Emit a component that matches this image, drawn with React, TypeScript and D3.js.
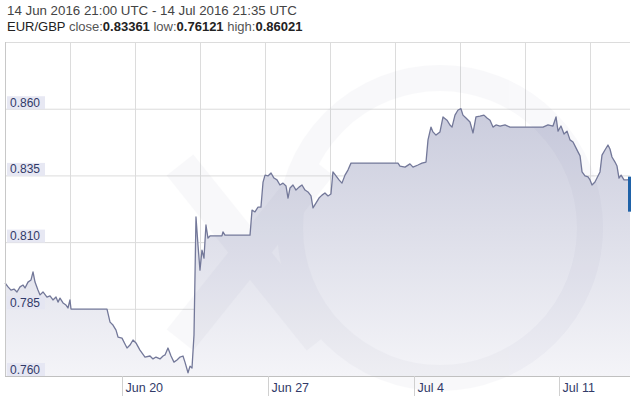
import React from 'react';
import * as d3 from 'd3';

// period shown
const startTime = new Date(Date.UTC(2016, 5, 14, 21, 0));
const endTime = new Date(Date.UTC(2016, 6, 14, 21, 35));

const pair = 'EUR/GBP';
const stats = [
  ['close', '0.83361'],
  ['low', '0.76121'],
  ['high', '0.86021'],
];
const yTicks = [0.76, 0.785, 0.81, 0.835, 0.86];

// [hours after start, rate]
const quotes: [number, number][] = [
  [0, 0.7949], [3.5, 0.7934], [6.9, 0.7922], [10.4, 0.7926], [13.8, 0.7915], [17.3, 0.7934],
  [20.8, 0.7941], [23.1, 0.793], [26.5, 0.7952], [30, 0.796], [32.3, 0.799], [34.6, 0.7952],
  [38, 0.7922], [40.4, 0.7904], [43.8, 0.7915], [48.4, 0.7896], [51.9, 0.79], [55.3, 0.7885],
  [58.8, 0.7896], [61.1, 0.7877], [63.4, 0.7892], [66.9, 0.7874], [70.3, 0.7866], [72.6, 0.7855],
  [74.9, 0.7885], [76.1, 0.7851], [117.6, 0.7851], [121.1, 0.7802], [124.5, 0.7791], [128, 0.7772],
  [130.3, 0.7746], [134.9, 0.7742], [138.3, 0.772], [140.7, 0.7705], [144.1, 0.7716], [147.6, 0.7735],
  [151, 0.7724], [155.6, 0.7697], [161.4, 0.7671], [167.2, 0.7675], [170.6, 0.7664], [174.1, 0.7671],
  [178.7, 0.7664], [182.2, 0.7675], [184.5, 0.7679], [187.9, 0.7705], [191.4, 0.7675], [194.8, 0.7652],
  [198.3, 0.766], [201.8, 0.7671], [205.2, 0.7675], [207.5, 0.7652], [211, 0.7612], [213.3, 0.7637],
  [215.6, 0.763], [217.9, 0.7754], [220.2, 0.8196], [222.5, 0.8091], [224.8, 0.7997], [227.1, 0.8072],
  [229.4, 0.8042], [231.7, 0.8166], [234, 0.8117], [236.3, 0.8125], [250.1, 0.8125], [251.3, 0.814],
  [253.6, 0.8128], [282.5, 0.8128], [284.8, 0.8222], [288.2, 0.8215], [291.7, 0.8233], [295.1, 0.8233],
  [297.5, 0.8327], [299.8, 0.8353], [303.2, 0.835], [306.7, 0.8361], [310.1, 0.8342], [313.6, 0.8335],
  [317, 0.8316], [320.5, 0.8323], [324, 0.8312], [326.3, 0.8267], [328.6, 0.8305], [332, 0.8316],
  [335.5, 0.8297], [339, 0.8308], [342.4, 0.8316], [345.9, 0.8297], [349.3, 0.829], [352.8, 0.8275],
  [355.1, 0.823], [358.5, 0.8248], [362, 0.8267], [365.5, 0.8278], [368.9, 0.8286], [372.4, 0.8275],
  [375.8, 0.8282], [378.1, 0.8365], [381.6, 0.835], [385.1, 0.8335], [388.5, 0.8323], [392, 0.8353],
  [395.4, 0.8372], [398.9, 0.8398], [403.5, 0.8398], [453.1, 0.8398], [455.4, 0.8387], [461.2, 0.8383],
  [466.9, 0.8395], [470.4, 0.8383], [476.1, 0.8391], [480.7, 0.8398], [485.4, 0.8402], [487.7, 0.8485],
  [491.1, 0.8533], [493.4, 0.8515], [496.9, 0.8503], [501.5, 0.8515], [505, 0.8571], [509.6, 0.8559],
  [513, 0.8541], [515.4, 0.8533], [518.8, 0.8578], [522.3, 0.8597], [525.7, 0.8602], [528, 0.8578],
  [531.5, 0.8567], [536.1, 0.8552], [539.6, 0.8511], [543, 0.8571], [547.6, 0.8574], [552.2, 0.8578],
  [555.7, 0.8567], [559.2, 0.8559], [562.6, 0.8533], [566.1, 0.8541], [570.7, 0.8537], [576.5, 0.8541],
  [582.2, 0.8533], [620.3, 0.8533], [626, 0.8541], [631.8, 0.8537], [635.3, 0.8571], [637.6, 0.8518],
  [641, 0.8537], [644.5, 0.8507], [648, 0.8518], [651.4, 0.8485], [654.9, 0.8477], [658.3, 0.8455],
  [660.6, 0.844], [663, 0.8425], [665.3, 0.8365], [668.7, 0.835], [672.2, 0.8346], [674.5, 0.8335],
  [676.8, 0.8316], [680.2, 0.8327], [682.5, 0.8342], [686, 0.8365], [688.3, 0.8428], [691.7, 0.8447],
  [695.2, 0.8466], [697.5, 0.8451], [699.8, 0.8421], [703.3, 0.8402], [705.6, 0.8387], [707.9, 0.8342],
  [710.3, 0.8353], [713.7, 0.8335], [717.2, 0.8335], [720.6, 0.8336],
];

const W = 631;
const H = 401;
const plot = { left: 5, right: 630, top: 42, bottom: 376 };
const font = 'Arial, "Liberation Sans", sans-serif';

export default function App() {
  const data = quotes.map(([h, v]) => ({ date: d3.utcMinute.offset(startTime, Math.round(h * 60)), value: v }));

  const x = d3.scaleUtc().domain([startTime, endTime]).range([plot.left, plot.right]);
  const y = d3.scaleLinear().domain([0.76, 0.8852]).range([plot.bottom, plot.top]);

  const area = d3.area<{ date: Date; value: number }>()
    .x(d => x(d.date))
    .y0(plot.bottom)
    .y1(d => y(d.value));
  const line = d3.line<{ date: Date; value: number }>()
    .x(d => x(d.date))
    .y(d => y(d.value));

  // weekly labels (mondays), placed at midday
  const labelDays = d3.utcMonday.range(startTime, endTime);
  const fmt = d3.utcFormat('%b %-d');
  // vertical grid every 75 hours
  const vGrid = d3.utcHour.every(1)!.range(startTime, endTime)
    .filter((_, i) => i > 0 && i % 75 === 0);

  const last = data[data.length - 1];

  return (
    <svg width={W} height={H} style={{ position: 'absolute', left: 0, top: 0, background: '#fff' }} fontFamily={font}>
      <defs>
        <linearGradient id="fillGrad" gradientUnits="userSpaceOnUse" x1="0" y1={plot.top + 60} x2="0" y2={plot.bottom}>
          <stop offset="0" stopColor="#c9cbdc" />
          <stop offset="1" stopColor="#f4f4f8" />
        </linearGradient>
      </defs>

      <text x={7} y={15} fontSize={13.3} fill="#444">
        {`${d3.utcFormat('%d %b %Y %H:%M')(startTime)} UTC - ${d3.utcFormat('%d %b %Y %H:%M')(endTime)} UTC`}
      </text>
      <text x={7} y={31} fontSize={13} fill="#222">
        {pair}
        {stats.map(([k, v]) => (
          <React.Fragment key={k}>
            <tspan fill="#555">{` ${k}:`}</tspan>
            <tspan fontWeight="bold">{v}</tspan>
          </React.Fragment>
        ))}
      </text>

      {/* grid */}
      {yTicks.map(t => (
        <line key={t} x1={plot.left} x2={plot.right} y1={y(t)} y2={y(t)} stroke="#dcdcdc" />
      ))}
      {vGrid.map(d => (
        <line key={+d} x1={Math.round(x(d)) + 0.5} x2={Math.round(x(d)) + 0.5} y1={plot.top} y2={plot.bottom} stroke="#dcdcdc" />
      ))}
      <line x1={plot.left} x2={plot.right} y1={plot.top + 0.5} y2={plot.top + 0.5} stroke="#dcdcdc" />

      {/* series */}
      <path d={area(data)!} fill="url(#fillGrad)" />

      {/* faint watermark */}
      <g opacity={0.035} fill="none" stroke="#5a5f8a">
        <circle cx={440} cy={228} r={150} strokeWidth={26} />
        <line x1={180} y1={165} x2={320} y2={340} strokeWidth={34} />
        <line x1={320} y1={165} x2={180} y2={340} strokeWidth={34} />
      </g>

      <path d={line(data)!} fill="none" stroke="#737899" strokeWidth={1.3} strokeLinejoin="round" />

      {/* frame */}
      <line x1={plot.left + 0.5} x2={plot.left + 0.5} y1={plot.top} y2={plot.bottom} stroke="#c8c8c8" />
      <line x1={plot.left} x2={plot.right} y1={plot.bottom + 0.5} y2={plot.bottom + 0.5} stroke="#c0c0c0" />

      {/* y labels */}
      {yTicks.map(t => (
        <g key={t}>
          <rect x={7} y={y(t) - 13} width={38} height={13} fill="#e4e6f2" opacity={0.9} />
          <text x={10} y={y(t) - 2.5} fontSize={12} fill="#323a68">{t.toFixed(3)}</text>
        </g>
      ))}

      {/* x labels */}
      {labelDays.map(d => {
        const px = Math.round(x(d3.utcHour.offset(d, 12))) + 0.5;
        return (
          <g key={+d}>
            <line x1={px} x2={px} y1={plot.bottom} y2={plot.bottom + 20} stroke="#d0d0d0" />
            <text x={px + 3} y={392} fontSize={12.5} fill="#323a68">{fmt(d)}</text>
          </g>
        );
      })}

      {/* last value marker */}
      <rect x={628} y={y(last.value) - 3} width={3} height={35} fill="#1f62a8" />
    </svg>
  );
}
